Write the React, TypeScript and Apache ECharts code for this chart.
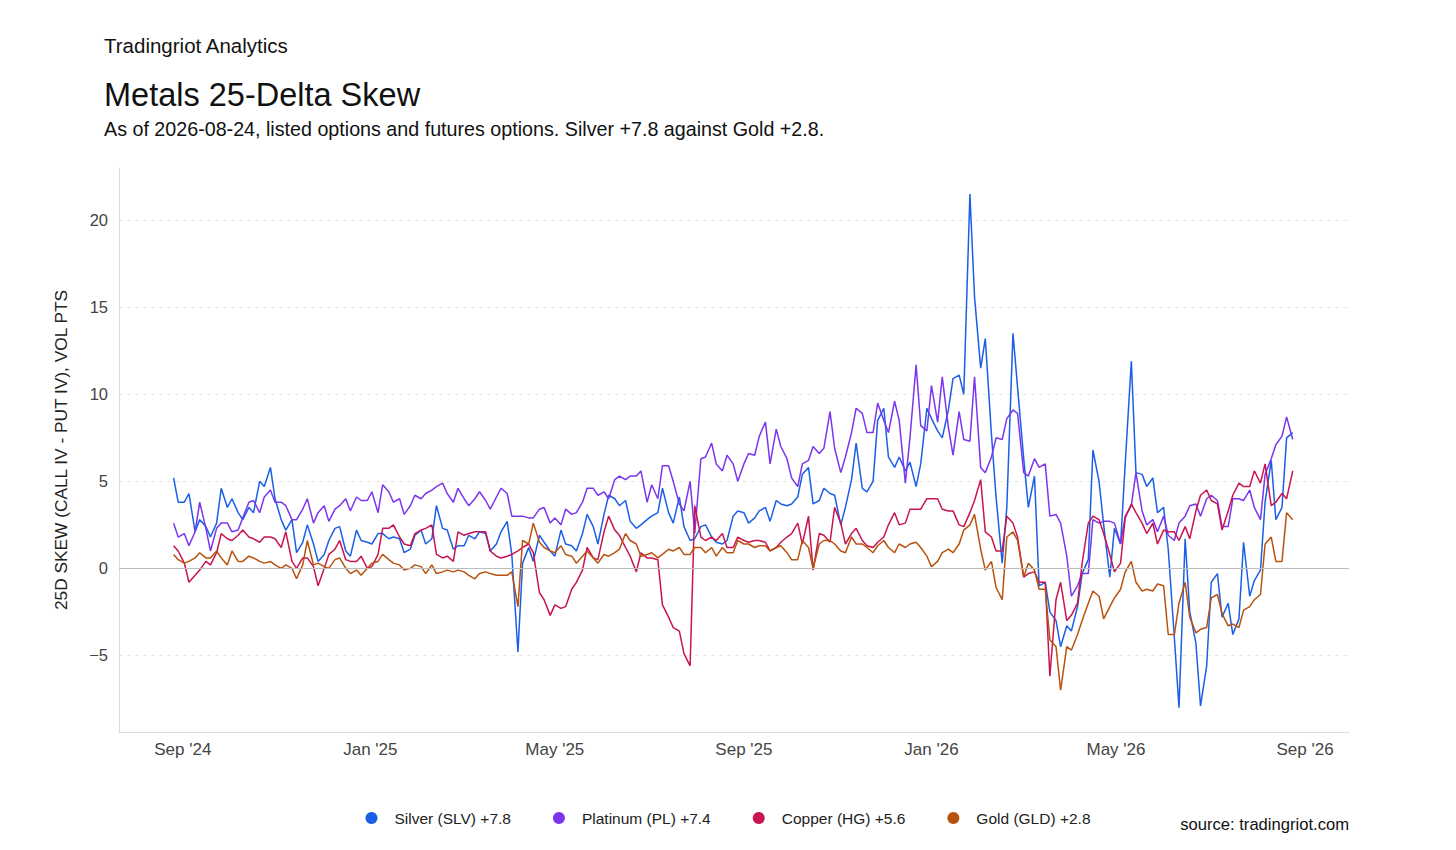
import { useEffect, useRef } from "react";
import * as echarts from "echarts";

const FONT = "'Liberation Sans', Arial, Helvetica, sans-serif";

// twice-weekly samples (Mon / Thu) starting Mon 2024-08-26, ending Mon 2026-08-24
const START = Date.UTC(2024, 7, 26);
const DAY = 86400000;

const SILVER = [
  5.2, 3.8, 3.8, 4.3, 2.1, 2.8, 2.4, 1.8, 2.6, 4.6, 3.5, 4.0, 3.2, 2.8, 3.5, 3.2, 5.0, 4.7, 5.8, 4.0, 2.8, 2.2, 2.8, 0.9, 1.5, 2.5, 1.4, 0.4, 0.8, 1.6, 2.3, 2.4, 1.0, 0.7, 2.2, 1.6,
  1.5, 1.4, 2.0, 2.0, 1.7, 1.8, 1.7, 0.9, 1.1, 1.9, 2.2, 1.4, 1.7, 3.6, 2.3, 2.2, 1.1, 1.3, 1.3, 1.9, 1.7, 2.1, 2.0, 1.0, 1.4, 2.1, 2.7, 0.8, -4.8, 0.3, 1.2, 0.4, 1.9,
  1.5, 1.0, 0.7, 2.2, 1.4, 1.3, 1.0, 2.0, 3.1, 2.4, 1.4, 3.1, 4.2, 4.0, 3.6, 3.9, 2.7, 2.3, 2.5, 2.8, 3.0, 3.2, 4.6, 3.2, 2.6, 4.1, 2.4, 1.6, 1.7, 2.4, 2.5, 1.8, 1.5, 1.4, 1.6, 3.0, 3.3, 3.2,
  2.6, 2.9, 3.3, 3.5, 2.7, 3.9, 3.7, 3.6, 3.7, 4.1, 5.4, 5.8, 3.7, 3.9, 4.6, 4.3, 4.2, 2.5, 3.5, 5.1, 7.2, 4.6, 4.4, 5.0, 8.5, 9.2, 6.4, 5.8, 6.4, 5.6, 6.1, 4.7, 6.0, 9.2,
  8.6, 7.9, 7.5, 9.1, 10.9, 11.1, 10.0, 21.5, 15.6, 11.5, 13.2, 7.7, 4.1, 0.3, 3.5, 13.5, 10.4, 6.3, 3.5, 5.3, -1.0, -0.8, -2.5, -3.0, -4.5, -3.3, -3.6, -2.2, -0.3, 0.5, 6.8, 5.0, 2.5,
  -0.5, 2.3, 1.4, 6.0, 11.9, 5.5, 5.4, 4.7, 5.2, 3.2, 3.5, 1.1, -4.0, -8.0, 1.7, -2.5, -4.3, -7.9, -5.6, -0.8, -0.3, -2.8, -2.0, -3.8, -2.9, 1.5, -1.6, -0.7, -0.1, 3.8, 6.2, 2.8, 3.5, 7.5, 7.8,
];

const PLATINUM = [
  2.6, 1.8, 2.0, 1.3, 2.1, 3.8, 2.3, 1.0, 2.3, 2.6, 2.6, 2.1, 2.2, 2.9, 3.8, 3.9, 3.2, 4.1, 4.5, 3.8, 3.8, 3.6, 2.8, 2.8, 3.4, 4.0, 2.6, 3.2, 3.6, 2.7, 3.4, 3.6, 4.0, 3.3, 4.1, 3.9,
  3.9, 4.4, 3.2, 4.8, 4.4, 3.8, 4.0, 3.1, 3.6, 4.2, 4.0, 4.3, 4.5, 4.7, 4.9, 4.3, 3.8, 4.6, 4.0, 3.6, 4.0, 4.4, 3.9, 3.4, 4.1, 4.6, 4.3, 3.0, 3.0, 3.0, 2.9, 2.9, 3.4,
  3.5, 2.6, 2.9, 2.5, 3.4, 3.1, 3.2, 3.8, 4.6, 4.6, 4.2, 4.4, 4.0, 5.1, 5.3, 5.1, 5.3, 5.3, 5.6, 3.8, 4.8, 4.0, 5.9, 5.9, 5.0, 3.7, 3.3, 5.0, 2.0, 6.3, 6.4, 7.2, 6.0, 5.6, 6.5, 6.0, 5.0, 6.0,
  6.6, 6.5, 7.6, 8.4, 6.0, 8.0, 7.0, 6.3, 5.2, 4.7, 6.0, 6.2, 7.0, 6.6, 6.9, 9.0, 6.9, 5.5, 6.4, 7.8, 9.2, 8.9, 7.8, 7.8, 9.5, 8.5, 7.8, 9.6, 8.5, 4.9, 7.5, 11.7, 8.2, 7.9,
  10.5, 8.4, 11.0, 8.1, 6.5, 9.0, 7.4, 7.3, 11.0, 5.8, 5.5, 6.4, 7.5, 7.4, 8.6, 9.1, 8.9, 5.5, 5.3, 6.3, 5.8, 6.0, 3.0, 3.1, 2.6, 0.7, -1.6, -1.0, -0.3, -0.3, 2.8, 2.6, 2.7,
  2.7, 2.6, 1.4, 3.0, 3.6, 5.5, 3.3, 2.5, 2.8, 2.1, 3.0, 1.9, 1.6, 2.6, 3.0, 3.6, 3.7, 3.0, 4.0, 4.2, 3.9, 2.4, 2.4, 4.0, 4.0, 3.9, 4.5, 3.5, 2.8, 5.4, 6.3, 7.1, 7.6, 8.7, 7.4,
];

const COPPER = [
  1.3, 1.0, 0.3, -0.8, -0.4, -0.1, 0.4, 0.2, 0.9, 2.0, 1.7, 1.6, 1.9, 2.2, 1.8, 1.7, 1.5, 1.8, 1.8, 1.7, 1.2, 2.1, 0.4, 0.0, 0.6, 0.6, 0.1, -1.0, 0.0, 0.8, 1.1, 1.6, 0.5, 0.4, 0.4, 0.7,
  0.0, 0.1, 0.8, 2.3, 2.3, 2.5, 1.8, 1.4, 1.3, 2.0, 2.2, 2.3, 2.5, 0.8, 0.6, 0.7, 0.4, 2.1, 1.9, 2.0, 2.1, 2.1, 2.1, 1.0, 0.7, 0.6, 0.7, 0.8, 1.0, 1.2, 1.4, 0.9, -1.4,
  -1.8, -2.7, -2.1, -2.3, -2.2, -1.2, -0.8, -0.1, 1.2, 0.6, 0.5, 2.1, 3.0, 2.2, 1.9, 1.2, 0.7, -0.2, 0.9, 0.6, 0.6, 0.5, -2.1, -2.8, -3.4, -3.6, -4.9, -5.6, 3.6, 1.8, 1.6, 1.8, 1.6, 2.0, 1.2, 1.2, 1.8, 1.6,
  1.5, 1.6, 1.6, 1.5, 1.0, 1.2, 1.5, 1.8, 2.0, 2.6, 1.4, 3.0, -0.1, 2.0, 1.9, 1.5, 3.5, 2.6, 1.4, 2.0, 2.3, 1.6, 1.3, 1.2, 1.5, 1.8, 2.5, 3.2, 2.5, 2.6, 3.4, 3.4, 3.4, 4.0,
  4.0, 4.0, 3.4, 3.3, 3.3, 2.5, 2.4, 3.2, 3.9, 5.1, 2.1, 1.8, 1.0, 1.0, 3.0, 2.6, 1.8, -0.5, -0.3, -0.2, -0.8, -0.8, -6.2, -1.8, -0.8, -3.0, -2.7, -2.0, 0.3, 2.6, 3.0, 2.8, 2.0,
  0.8, -0.2, 0.3, 2.9, 3.7, 3.2, 2.6, 2.0, 2.6, 1.4, 2.2, 2.1, 2.1, 1.6, 2.4, 1.7, 3.3, 4.2, 4.5, 3.9, 3.7, 2.2, 3.3, 4.2, 4.9, 4.7, 4.7, 5.6, 4.9, 6.0, 3.6, 3.8, 4.3, 4.0, 5.6,
];

const GOLD = [
  0.8, 0.5, 0.3, 0.4, 0.6, 0.9, 0.6, 0.6, 1.0, 0.6, 0.2, 1.0, 0.4, 0.4, 0.7, 0.6, 0.4, 0.3, 0.4, 0.2, 0.0, 0.2, 0.0, -0.6, 0.2, 1.6, 0.2, 0.3, 0.1, 0.0, 0.5, 0.6, 0.0, -0.3, -0.1, -0.4,
  0.0, 0.3, 0.4, 0.8, 0.5, 0.3, 0.2, -0.1, 0.0, 0.2, 0.1, -0.3, 0.2, -0.3, -0.2, -0.1, -0.2, -0.1, -0.2, -0.4, -0.6, -0.3, -0.2, -0.3, -0.4, -0.4, -0.4, -0.2, -2.2, 1.6, 1.4, 2.6, 1.5,
  1.2, 1.0, 0.9, 1.3, 0.8, 0.7, 0.3, 0.7, 1.0, 0.6, 0.3, 0.8, 0.7, 0.9, 1.1, 2.0, 1.6, 1.4, 0.7, 0.8, 0.9, 0.6, 0.8, 1.1, 1.0, 1.2, 0.8, 0.8, 1.2, 1.2, 0.9, 1.2, 0.7, 1.2, 0.9, 0.9, 1.6, 1.4,
  1.4, 1.2, 1.3, 1.3, 1.0, 1.2, 1.3, 0.9, 0.5, 0.5, 1.6, 1.2, 0.0, 1.4, 1.6, 1.6, 1.4, 1.0, 0.9, 1.8, 1.4, 1.4, 1.2, 0.9, 1.3, 1.6, 1.2, 0.9, 1.4, 1.2, 1.4, 1.5, 1.2, 0.7,
  0.1, 0.4, 0.9, 1.1, 0.9, 1.4, 2.2, 2.5, 3.1, 1.1, -0.1, 0.4, -1.1, -1.8, 1.8, 2.1, 1.6, -0.5, 0.3, -0.1, -1.2, -1.2, -4.1, -4.5, -7.0, -4.5, -4.7, -3.8, -3.0, -2.0, -1.3, -1.6, -2.9,
  -2.2, -1.7, -1.2, -0.2, 0.4, -0.8, -1.3, -1.2, -1.3, -0.9, -1.0, -3.8, -3.8, -2.0, -0.8, -2.8, -3.7, -3.5, -3.4, -1.7, -1.5, -2.6, -3.3, -3.2, -3.4, -2.4, -2.2, -1.8, -1.5, 1.4, 1.8, 0.4, 0.4, 3.2, 2.8,
];

const SERIES = [
  { name: "Silver (SLV) +7.8", color: "#1a5fe6", values: SILVER },
  { name: "Platinum (PL) +7.4", color: "#7c35ee", values: PLATINUM },
  { name: "Copper (HG) +5.6", color: "#c8144f", values: COPPER },
  { name: "Gold (GLD) +2.8", color: "#b8520f", values: GOLD },
];

const X_TICKS = [
  Date.UTC(2024, 8, 1),
  Date.UTC(2025, 0, 1),
  Date.UTC(2025, 4, 1),
  Date.UTC(2025, 8, 1),
  Date.UTC(2026, 0, 1),
  Date.UTC(2026, 4, 1),
  Date.UTC(2026, 8, 1),
];
const MONTHS = ["Jan", "Feb", "Mar", "Apr", "May", "Jun", "Jul", "Aug", "Sep", "Oct", "Nov", "Dec"];

const X_MIN = Date.UTC(2024, 6, 21, 12);
const X_MAX = Date.UTC(2026, 8, 29, 14);
const Y_MIN = -9.4;
const Y_MAX = 23;

function sampleDate(j: number) {
  return START + (Math.floor(j / 2) * 7 + (j % 2) * 3) * DAY;
}

export default function App() {
  const ref = useRef<HTMLDivElement>(null);

  useEffect(() => {
    const el = ref.current;
    if (!el) return;
    const chart = echarts.init(el, undefined, { renderer: "svg" });

    chart.setOption({
      animation: false,
      backgroundColor: "#ffffff",
      textStyle: { fontFamily: FONT },
      title: [
        {
          text: "Tradingriot Analytics",
          left: 104,
          top: 35,
          padding: 0,
          textStyle: { fontFamily: FONT, fontSize: 20.5, fontWeight: "normal", color: "#111" },
        },
        {
          text: "Metals 25-Delta Skew",
          left: 104,
          top: 78,
          padding: 0,
          textStyle: { fontFamily: FONT, fontSize: 32.5, fontWeight: "normal", color: "#111" },
        },
        {
          text: "As of 2026-08-24, listed options and futures options. Silver +7.8 against Gold +2.8.",
          left: 104,
          top: 119,
          padding: 0,
          textStyle: { fontFamily: FONT, fontSize: 19.7, fontWeight: "normal", color: "#111" },
        },
        {
          text: "source: tradingriot.com",
          right: 107,
          top: 816,
          padding: 0,
          textStyle: { fontFamily: FONT, fontSize: 16.6, fontWeight: "normal", color: "#111" },
        },
      ],
      legend: {
        data: SERIES.map((s) => s.name),
        left: "center",
        top: 810,
        padding: 0,
        icon: "circle",
        itemWidth: 36,
        itemHeight: 12,
        symbolKeepAspect: true,
        itemGap: 42,
        textStyle: { fontFamily: FONT, fontSize: 15.5, color: "#222" },
      },
      grid: { left: 119, right: 107, top: 168, bottom: 118, containLabel: false },
      xAxis: {
        type: "value",
        min: X_MIN,
        max: X_MAX,
        axisLine: { show: true, onZero: false, lineStyle: { color: "#dcdcdc" } },
        axisTick: { show: false },
        splitLine: { show: false },
        axisLabel: {
          customValues: X_TICKS,
          color: "#444",
          fontSize: 17,
          fontFamily: FONT,
          margin: 9,
          formatter: (v: number) => {
            const d = new Date(v);
            return `${MONTHS[d.getUTCMonth()]} '${String(d.getUTCFullYear()).slice(2)}`;
          },
        },
      },
      yAxis: {
        type: "value",
        min: Y_MIN,
        max: Y_MAX,
        name: "25D SKEW (CALL IV - PUT IV), VOL PTS",
        nameLocation: "middle",
        nameGap: 50,
        nameTextStyle: { fontFamily: FONT, fontSize: 17.3, color: "#222" },
        axisLine: { show: true, lineStyle: { color: "#dcdcdc" } },
        axisTick: { show: false },
        axisLabel: {
          color: "#444",
          fontSize: 16.5,
          fontFamily: FONT,
          margin: 11,
          showMinLabel: false,
          showMaxLabel: false,
          formatter: (v: number) => {
            if (Math.abs(v % 5) > 1e-6) return "";
            return v < 0 ? `\u2212${Math.abs(v)}` : String(v);
          },
        },
        splitLine: {
          show: true,
          showMinLine: false,
          showMaxLine: false,
          lineStyle: { color: "#e6e6e6", type: [4, 4], width: 1 },
        },
      },
      series: [
        {
          type: "line",
          name: "zero",
          data: [],
          silent: true,
          z: 1,
          markLine: {
            silent: true,
            symbol: "none",
            label: { show: false },
            lineStyle: { color: "#bdbdbd", type: "solid", width: 1.2 },
            data: [{ yAxis: 0 }],
          },
        },
        ...SERIES.map((s) => ({
          type: "line",
          name: s.name,
          color: s.color,
          showSymbol: false,
          symbol: "none",
          z: 3,
          lineStyle: { color: s.color, width: 1.5 },
          data: s.values.map((v, j) => [sampleDate(j), v]),
        })),
      ],
    });

    return () => chart.dispose();
  }, []);

  return (
    <div
      ref={ref}
      style={{ position: "fixed", left: 0, top: 0, width: 1456, height: 850, background: "#fff" }}
    />
  );
}
